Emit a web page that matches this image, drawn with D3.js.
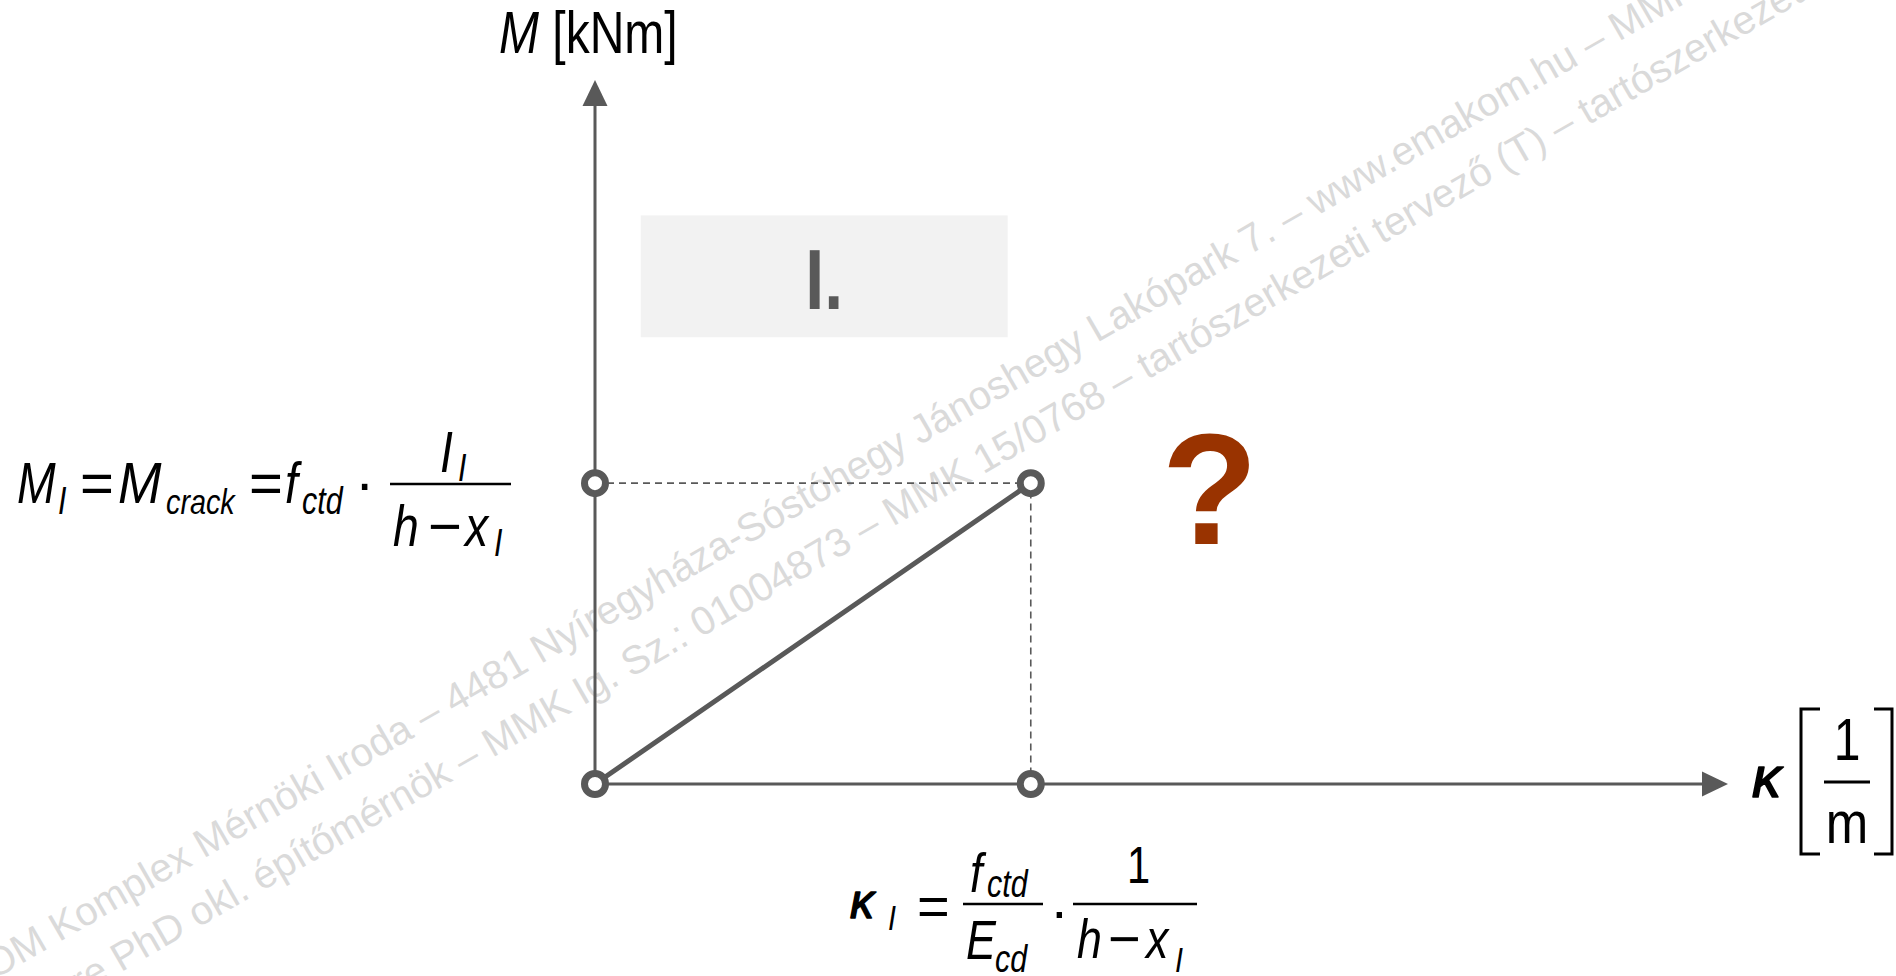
<!DOCTYPE html>
<html>
<head>
<meta charset="utf-8">
<script src="https://cdn.jsdelivr.net/npm/d3@7"></script>
<style>
  html, body { margin: 0; padding: 0; background: #ffffff; overflow: hidden; }
  svg text { font-family: "Liberation Sans", Arial, sans-serif; }
</style>
</head>
<body>
<svg id="chart" width="1896" height="976"></svg>
<script>
// Moment–curvature diagram of a reinforced concrete section, stage I (uncracked).
// Values are expressed relative to the cracking point (κ_I, M_I).
const kappaValues  = [0, 1];                 // curvature, in units of κ_I
const momentValues = [0, 1];                 // bending moment, in units of M_I
const markerKappa  = [0, 0, 1, 1];           // open circles on the axes and at the cracking point
const markerMoment = [0, 1, 1, 0];
const kappaMax  = 2.6;                       // extent of the κ axis
const momentMax = 2.34;                      // extent of the M axis
const stageZone = { k0: 0.105, k1: 0.947, m0: 1.485, m1: 1.89, label: "I." };
const unknownBranch = { k: 1.411, m: 0.798, label: "?" };

const yAxisTitle = ["M", " [kNm]"];
const xAxisTitle = { symbol: "κ", num: "1", den: "m" };

const watermarkLines = [
  { text: "EMAKOM Komplex Mérnöki Iroda – 4481 Nyíregyháza-Sóstóhegy Jánoshegy Lakópark 7. – www.emakom.hu – MMK",
    key: "Lakópark", at: [1097, 343] },
  { text: "Imre PhD okl. építőmérnök – MMK Ig. Sz.: 01004873 – MMK 15/0768 – tartószerkezeti tervező (T) – tartószerkezeti",
    key: "tartószerkezeti", at: [1147, 380] }
];

const AXIS = "#595959";
const SANS = "'Liberation Sans', Arial, sans-serif";
const GREEK = "'DejaVu Serif', 'Liberation Serif', serif";
const SQUEEZE = 0.8;   // formulas are set in a narrow face

const svg = d3.select("#chart");

const x = d3.scaleLinear().domain([0, kappaMax]).range([595, 1728]);
const y = d3.scaleLinear().domain([0, momentMax]).range([784, 80]);

// ---- watermark -----------------------------------------------------------
const wm = svg.append("g").attr("class", "watermark");
watermarkLines.forEach(line => {
  const t = wm.append("text")
    .attr("transform", `translate(${line.at[0]},${line.at[1]}) rotate(-30)`)
    .attr("font-size", 40)
    .attr("fill", "#dadada")
    .text(line.text);
  const idx = line.text.indexOf(line.key);
  const off = idx > 0 ? t.node().getSubStringLength(0, idx) : 0;
  t.attr("x", -off);
});

// ---- stage I zone label ---------------------------------------------------
svg.append("rect")
  .attr("x", x(stageZone.k0)).attr("y", y(stageZone.m1))
  .attr("width", x(stageZone.k1) - x(stageZone.k0))
  .attr("height", y(stageZone.m0) - y(stageZone.m1))
  .attr("fill", "#f2f2f2");
svg.append("text")
  .attr("transform", `translate(${(x(stageZone.k0) + x(stageZone.k1)) / 2},309) scale(${SQUEEZE},1)`)
  .attr("text-anchor", "middle")
  .attr("font-size", 85).attr("font-weight", "bold")
  .attr("fill", AXIS)
  .text(stageZone.label);

// ---- axes ------------------------------------------------------------------
const arrowLen = 26, arrowHalf = 12.5;
svg.append("line")
  .attr("x1", x(0)).attr("y1", y(0))
  .attr("x2", x(kappaMax) - arrowLen + 2).attr("y2", y(0))
  .attr("stroke", AXIS).attr("stroke-width", 3);
svg.append("line")
  .attr("x1", x(0)).attr("y1", y(0))
  .attr("x2", x(0)).attr("y2", y(momentMax) + arrowLen - 2)
  .attr("stroke", AXIS).attr("stroke-width", 3);
svg.append("path")
  .attr("d", `M${x(kappaMax)},${y(0)} L${x(kappaMax) - arrowLen},${y(0) - arrowHalf} L${x(kappaMax) - arrowLen},${y(0) + arrowHalf}Z`)
  .attr("fill", AXIS);
svg.append("path")
  .attr("d", `M${x(0)},${y(momentMax)} L${x(0) - arrowHalf},${y(momentMax) + arrowLen} L${x(0) + arrowHalf},${y(momentMax) + arrowLen}Z`)
  .attr("fill", AXIS);

// ---- guide lines to the cracking point ------------------------------------
const kI = kappaValues[1], mI = momentValues[1];
svg.append("path")
  .attr("d", d3.line()([[x(0), y(mI)], [x(kI), y(mI)], [x(kI), y(0)]]))
  .attr("fill", "none").attr("stroke", AXIS)
  .attr("stroke-width", 1.6).attr("stroke-dasharray", "7,5");

// ---- stage I branch ----------------------------------------------------------
const pts = kappaValues.map((k, i) => [k, momentValues[i]]);
svg.append("path")
  .datum(pts)
  .attr("d", d3.line().x(d => x(d[0])).y(d => y(d[1])))
  .attr("fill", "none").attr("stroke", AXIS)
  .attr("stroke-width", 5).attr("stroke-linecap", "round");

svg.selectAll("circle.marker")
  .data(markerKappa.map((k, i) => [k, markerMoment[i]]))
  .join("circle")
  .attr("class", "marker")
  .attr("cx", d => x(d[0])).attr("cy", d => y(d[1]))
  .attr("r", 10.5)
  .attr("fill", "#ffffff").attr("stroke", AXIS).attr("stroke-width", 7);

// ---- unknown further branch -------------------------------------------------
svg.append("text")
  .attr("x", x(unknownBranch.k)).attr("y", y(unknownBranch.m))
  .attr("text-anchor", "middle")
  .attr("font-size", 158).attr("font-weight", "bold")
  .attr("fill", "#993300")
  .text(unknownBranch.label);

// ---- formula helper ------------------------------------------------------------
function mathPieces(g, pieces) {
  pieces.forEach(p => {
    const t = g.append("text")
      .attr("transform", `translate(${p.x},${p.y}) scale(${p.sq ?? SQUEEZE},1)`)
      .attr("font-size", p.s)
      .attr("font-style", p.i ? "italic" : "normal")
      .attr("font-family", p.f || SANS)
      .attr("text-anchor", p.a || "start")
      .attr("fill", "#000")
      .text(p.t);
    if (p.heavy) t.attr("stroke", "#000").attr("stroke-width", p.heavy).attr("stroke-linejoin", "round");
  });
}
function bar(g, x1, x2, yy, w) {
  g.append("line").attr("x1", x1).attr("x2", x2).attr("y1", yy).attr("y2", yy)
    .attr("stroke", "#000").attr("stroke-width", w || 2.5);
}

// axis titles
svg.append("text")
  .attr("transform", `translate(499,53) scale(${SQUEEZE},1)`)
  .attr("font-size", 60).attr("fill", "#000")
  .call(t => {
    t.append("tspan").attr("font-style", "italic").text(yAxisTitle[0]);
    t.append("tspan").attr("xml:space", "preserve").text(yAxisTitle[1]);
  });

const xt = svg.append("g");
mathPieces(xt, [
  { t: xAxisTitle.symbol, x: 1752, y: 797, s: 58, i: true, f: GREEK, sq: 1, heavy: 1.6 },
  { t: xAxisTitle.num, x: 1847, y: 760, s: 60, a: "middle" },
  { t: xAxisTitle.den, x: 1847, y: 843, s: 60, a: "middle", sq: 0.85 }
]);
bar(xt, 1824, 1870, 782, 3);
xt.append("path").attr("d", "M1820,709 H1801 V854 H1820 M1874,709 H1892 V854 H1874")
  .attr("fill", "none").attr("stroke", "#000").attr("stroke-width", 3);

// M_I = M_crack = f_ctd · I_I / (h − x_I)
const fm = svg.append("g");
mathPieces(fm, [
  { t: "M", x: 17, y: 503, s: 58, i: true },
  { t: "I", x: 58, y: 514, s: 38, i: true },
  { t: "=", x: 80, y: 503, s: 58, sq: 1 },
  { t: "M", x: 118, y: 503, s: 58, i: true, sq: 0.9 },
  { t: "crack", x: 166, y: 514, s: 36, i: true },
  { t: "=", x: 249, y: 503, s: 58, sq: 1 },
  { t: "f", x: 285, y: 503, s: 58, i: true },
  { t: "ctd", x: 302, y: 514, s: 38, i: true },
  { t: "·", x: 355, y: 503, s: 58, sq: 1 },
  { t: "I", x: 440, y: 472, s: 58, i: true },
  { t: "I", x: 458, y: 481, s: 38, i: true },
  { t: "h", x: 393, y: 546, s: 58, i: true },
  { t: "−", x: 428, y: 546, s: 58, sq: 1 },
  { t: "x", x: 465, y: 546, s: 58, i: true },
  { t: "I", x: 494, y: 556, s: 38, i: true }
]);
bar(fm, 390, 511, 484);

// κ_I = f_ctd / E_cd · 1 / (h − x_I)
const fk = svg.append("g");
mathPieces(fk, [
  { t: "κ", x: 850, y: 918, s: 48, i: true, f: GREEK, sq: 1, heavy: 1.4 },
  { t: "I", x: 888, y: 930, s: 36, i: true },
  { t: "=", x: 917, y: 925, s: 56, sq: 1 },
  { t: "f", x: 970, y: 892, s: 56, i: true },
  { t: "ctd", x: 987, y: 897, s: 38, i: true },
  { t: "E", x: 966, y: 959, s: 56, i: true },
  { t: "cd", x: 995, y: 972, s: 38, i: true },
  { t: "·", x: 1050, y: 930, s: 56, sq: 1 },
  { t: "1", x: 1127, y: 883, s: 52 },
  { t: "h", x: 1077, y: 958, s: 56, i: true },
  { t: "−", x: 1108, y: 958, s: 56, sq: 1 },
  { t: "x", x: 1146, y: 958, s: 56, i: true },
  { t: "I", x: 1175, y: 972, s: 36, i: true }
]);
bar(fk, 963, 1043, 904);
bar(fk, 1073, 1197, 904);
</script>
</body>
</html>
